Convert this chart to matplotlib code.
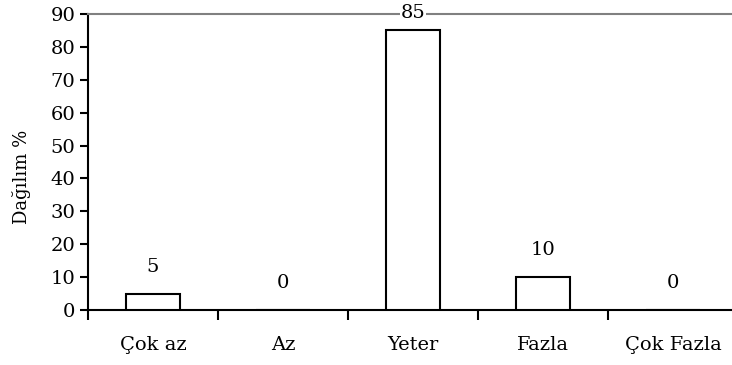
import numpy as np
import matplotlib.pyplot as plt

plt.rcParams['font.family'] = ['DejaVu Serif']

categories = ['Çok az', 'Az', 'Yeter', 'Fazla', 'Çok Fazla']
values = [5, 0, 85, 10, 0]
yticks = list(range(0, 100, 10))

fig = plt.figure(figsize=(7.32, 3.65), dpi=100)
ax = fig.add_axes([88/732, 1 - 310/365, 650/732, (310 - 14)/365])

x = np.arange(len(categories))
ax.bar(x, values, width=0.415, color='white', edgecolor='black', linewidth=1.5, zorder=3)
# value labels above the bars, the tallest one sits on the top line
for xi, v in zip(x, values):
  ax.text(xi, min(v + 8.2, 90.3), str(v), ha='center', va='center', fontsize=14,
          zorder=5, clip_on=False,
          bbox=dict(facecolor='white', edgecolor='none', pad=0.5))

ax.set_xlim(-0.5, len(categories) - 0.5)
ax.set_ylim(0, 90)
ax.set_yticks(yticks)
ax.tick_params(axis='y', direction='out', length=6, width=1.5, labelsize=14, pad=3)

ax.set_xticks(x)
ax.set_xticklabels(categories, fontsize=14)
ax.tick_params(axis='x', which='major', length=0, pad=19)
ax.set_xticks(np.arange(-0.5, len(categories), 1.0), minor=True)
ax.tick_params(axis='x', which='minor', direction='out', length=7, width=1.5)

ax.spines['left'].set_linewidth(1.5)
ax.spines['bottom'].set_linewidth(1.5)
ax.spines['right'].set_visible(False)
ax.spines['top'].set_color('#808080')
ax.spines['top'].set_linewidth(1.5)

ax.set_ylabel('Dağılım %', fontsize=13)
ax.yaxis.set_label_coords(-0.087, 0.45)

fig.savefig('out.png', dpi=100)
